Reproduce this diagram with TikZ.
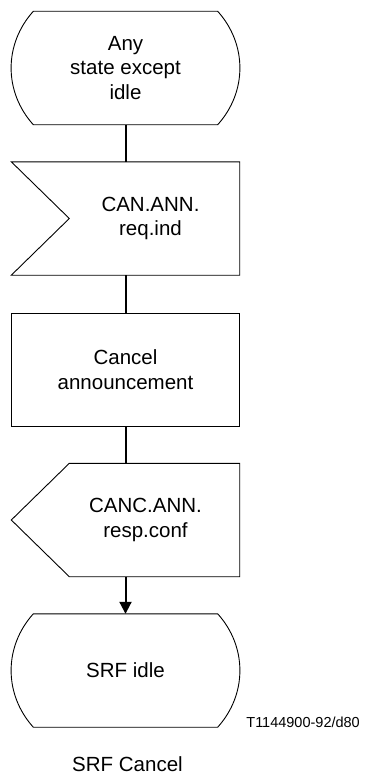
\documentclass[tikz,border=0pt]{standalone}
\usepackage{fontspec}
\setmainfont{Liberation Sans}
\usetikzlibrary{arrows.meta}

\tikzset{
  sdlframe/.style={minimum width=228pt, minimum height=113pt, inner sep=0pt},
  sdltext/.style={align=center, font=\fontsize{20.5}{24.5}\selectfont},
  outline/.style={line width=0.9pt},
  flow/.style={line width=2pt}
}

\begin{document}
\begin{tikzpicture}[x=1pt, y={(0pt,-1pt)}]
  \useasboundingbox (0,0) rectangle (371,776);
  % symbols
  \node[sdlframe, sdltext] (anystate) at (125.5,68) {Any\\state except\\idle};
  \node[sdlframe] (canreq) at (125.5,218.5) {};
  \node[sdlframe, sdltext, draw, outline] (cancel) at (125.5,369.5) {Cancel\\announcement};
  \node[sdlframe] (cancresp) at (125.5,520) {};
  \node[sdlframe, sdltext] (srfidle) at (125.5,670.5) {SRF idle};
  \node[sdltext] (canreqtext) at ([xshift=25pt]canreq.center) {CAN.ANN.\\req.ind};
  \node[sdltext] (cancresptext) at ([xshift=20pt]cancresp.center) {CANC.ANN.\\resp.conf};
  % outlines
  \draw[outline] ([xshift=22pt]anystate.north west) -- ([xshift=-22pt]anystate.north east)
    to[bend left=42] ([xshift=-22pt]anystate.south east) -- ([xshift=22pt]anystate.south west)
    to[bend left=42] ([xshift=22pt]anystate.north west) -- cycle;
  \draw[outline] (canreq.north west) -- (canreq.north east) -- (canreq.south east)
    -- (canreq.south west) -- ([xshift=58pt]canreq.west) -- cycle;
  \draw[outline] ([xshift=58pt]cancresp.north west) -- (cancresp.north east) -- (cancresp.south east)
    -- ([xshift=58pt]cancresp.south west) -- (cancresp.west) -- cycle;
  \draw[outline] ([xshift=22pt]srfidle.north west) -- ([xshift=-22pt]srfidle.north east)
    to[bend left=42] ([xshift=-22pt]srfidle.south east) -- ([xshift=22pt]srfidle.south west)
    to[bend left=42] ([xshift=22pt]srfidle.north west) -- cycle;
  % connectors
  \draw[flow] (anystate.south) -- (canreq.north);
  \draw[flow] (canreq.south) -- (cancel.north);
  \draw[flow] (cancel.south) -- (cancresp.north);
  \draw[flow, -{Triangle[length=12pt, width=12pt]}] (cancresp.south) -- (srfidle.north);
  % labels
  \node[anchor=base east, font=\fontsize{14.5}{17}\selectfont, inner sep=0pt] (figref) at (360,727) {T1144900-92/d80};
  \node[anchor=base, sdltext, inner sep=0pt] (caption) at (127.5,771) {SRF Cancel};
\end{tikzpicture}
\end{document}
